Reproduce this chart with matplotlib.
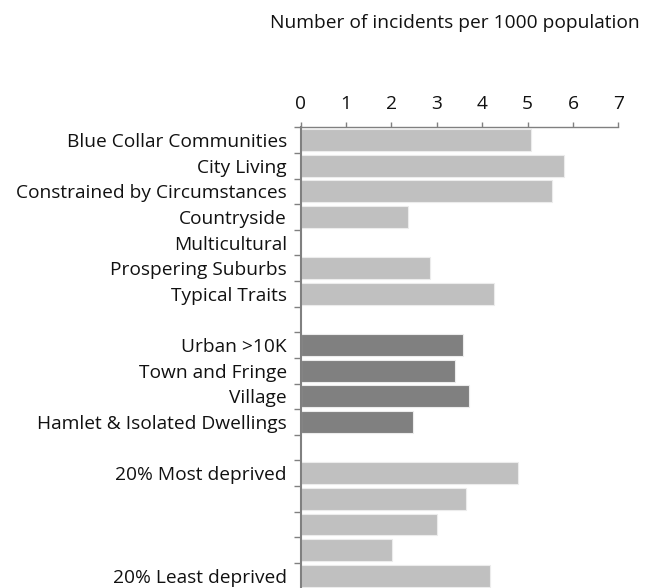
import matplotlib.pyplot as plt
import numpy as np

plt.rcParams['font.family'] = ['Open Sans', 'DejaVu Sans']

# rows from top to bottom, "" marks a spacer row
categories = [
    "Blue Collar Communities", "City Living", "Constrained by Circumstances",
    "Countryside", "Multicultural", "Prospering Suburbs", "Typical Traits",
    "",
    "Urban >10K", "Town and Fringe", "Village", "Hamlet & Isolated Dwellings",
    "",
    "20% Most deprived", "", "", "", "20% Least deprived",
]
values = [
    5.07, 5.81, 5.54, 2.37, 0.0, 2.86, 4.26,
    np.nan,
    3.58, 3.40, 3.72, 2.48,
    np.nan,
    4.80, 3.65, 3.01, 2.02, 4.17,
]
groups = [0] * 7 + [-1] + [1] * 4 + [-1] + [2] * 5
x_ticks = [0, 1, 2, 3, 4, 5, 6, 7]
title = "Number of incidents per 1000 population"

group_colors = {0: "#c0c0c0", 1: "#808080", 2: "#c0c0c0"}
fs = 13.8

fig = plt.figure(figsize=(6.47, 5.88), dpi=100)
ax = fig.add_axes([0.4648, -0.001, 0.4908, 0.7845])

n = len(categories)
ypos = np.arange(n)
for y, v, g in zip(ypos, values, groups):
    if g < 0 or np.isnan(v):
        continue
    ax.barh(y, v, height=0.85, color=group_colors[g], edgecolor="#ececec", linewidth=0.8)

ax.set_ylim(n - 0.5, -0.5)
ax.set_xlim(0, 7)

# x axis on top
ax.xaxis.tick_top()
ax.set_xticks(x_ticks)
ax.set_xticklabels([str(t) for t in x_ticks])
ax.tick_params(axis="x", direction="out", length=3.6, width=1.0, color="#808080",
               pad=7, labelsize=fs, labelcolor="#111111")

# y ticks at row boundaries, labels at row centres
ax.set_yticks(np.arange(-0.5, n, 1.0))
ax.set_yticklabels([])
ax.set_yticks(ypos, minor=True)
ax.set_yticklabels(categories, minor=True)
ax.tick_params(axis="y", which="major", direction="out", length=5, width=1.0, color="#808080")
ax.tick_params(axis="y", which="minor", length=0, pad=10, labelsize=fs, labelcolor="#111111")

for side in ["right", "bottom"]:
    ax.spines[side].set_visible(False)
ax.spines["left"].set_color("#808080")
ax.spines["left"].set_linewidth(1.5)
ax.spines["top"].set_color("#808080")
ax.spines["top"].set_linewidth(1.0)

fig.text(640 / 647, 0.953, title, ha="right", va="baseline", fontsize=fs, color="#111111")

fig.savefig("out.png", dpi=100)
